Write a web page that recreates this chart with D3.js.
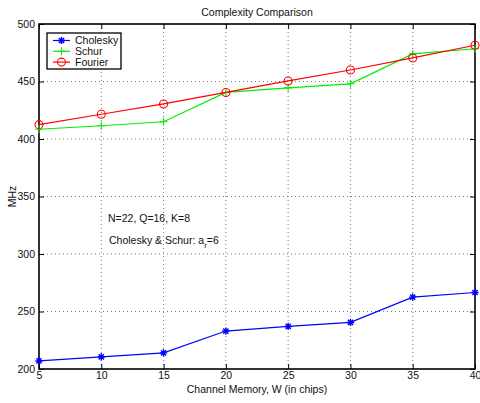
<!DOCTYPE html>
<html>
<head>
<meta charset="utf-8">
<script src="https://cdn.jsdelivr.net/npm/d3@7"></script>
<style>
  html, body { margin: 0; padding: 0; background: #fff; }
  svg { display: block; font-family: "Liberation Sans", Arial, Helvetica, sans-serif; }
</style>
</head>
<body>
<svg id="chart" width="480" height="403"></svg>
<script>
// Channel memory W (in chips)
const memory = [5, 10, 15, 20, 25, 30, 35, 40];
// Complexity in MHz per algorithm
const cholesky = [207, 210.5, 214, 233, 237, 240.5, 262.5, 266.5];
const schur    = [408.5, 411.5, 415, 440.5, 444.5, 448, 474, 478.5];
const fourier  = [412.5, 421.5, 430.5, 440.5, 450.5, 460, 470.5, 481.5];

const xTicks = [5, 10, 15, 20, 25, 30, 35, 40];
const yTicks = [200, 250, 300, 350, 400, 450, 500];

const seriesNames = ["Cholesky", "Schur", "Fourier"];
const seriesColors = ["#0000ff", "#00ee00", "#ff0000"];
const seriesMarkers = ["star", "plus", "circle"];

const svg = d3.select("#chart");
const m = { left: 39, right: 475, top: 24, bottom: 369 };

const x = d3.scaleLinear().domain([5, 40]).range([m.left, m.right]);
const y = d3.scaleLinear().domain([200, 500]).range([m.bottom, m.top]);

// dotted grid
const grid = svg.append("g");
grid.selectAll("line.gx").data(xTicks.slice(1, -1)).join("line")
  .attr("x1", d => x(d)).attr("x2", d => x(d))
  .attr("y1", m.top).attr("y2", m.bottom)
  .attr("stroke", "#555").attr("stroke-width", 0.8).attr("stroke-dasharray", "1,3");
grid.selectAll("line.gy").data(yTicks.slice(1, -1)).join("line")
  .attr("y1", d => y(d)).attr("y2", d => y(d))
  .attr("x1", m.left).attr("x2", m.right)
  .attr("stroke", "#555").attr("stroke-width", 0.8).attr("stroke-dasharray", "1,3");

// axes with inward ticks on all four sides
const fontSize = 10.5;
const axB = svg.append("g").attr("transform", `translate(0,${m.bottom})`)
  .call(d3.axisBottom(x).tickValues(xTicks).tickSize(-5).tickPadding(3));
const axT = svg.append("g").attr("transform", `translate(0,${m.top})`)
  .call(d3.axisTop(x).tickValues(xTicks).tickSize(-5).tickFormat(""));
const axL = svg.append("g").attr("transform", `translate(${m.left},0)`)
  .call(d3.axisLeft(y).tickValues(yTicks).tickSize(-5).tickPadding(4));
const axR = svg.append("g").attr("transform", `translate(${m.right},0)`)
  .call(d3.axisRight(y).tickValues(yTicks).tickSize(-5).tickFormat(""));
[axB, axT, axL, axR].forEach(a => {
  a.select(".domain").remove();
  a.selectAll(".tick line").attr("stroke", "#000").attr("stroke-width", 1);
  a.selectAll("text").attr("font-size", fontSize).attr("fill", "#111")
    .attr("font-family", "Liberation Sans, Arial, sans-serif");
});

// axes frame
svg.append("rect")
  .attr("x", m.left).attr("y", m.top)
  .attr("width", m.right - m.left).attr("height", m.bottom - m.top)
  .attr("fill", "none").attr("stroke", "#000").attr("stroke-width", 1.6);

// markers
function drawMarker(g, type, color, cx, cy) {
  if (type === "circle") {
    g.append("circle").attr("cx", cx).attr("cy", cy).attr("r", 4)
      .attr("fill", "none").attr("stroke", color).attr("stroke-width", 1.1);
  } else if (type === "plus") {
    g.append("path").attr("d", `M${cx-4},${cy}H${cx+4}M${cx},${cy-4}V${cy+4}`)
      .attr("stroke", color).attr("stroke-width", 1.1);
  } else {
    const r = 3.6, d = r * 0.72;
    g.append("path")
      .attr("d", `M${cx-r},${cy}H${cx+r}M${cx},${cy-r}V${cy+r}M${cx-d},${cy-d}L${cx+d},${cy+d}M${cx-d},${cy+d}L${cx+d},${cy-d}`)
      .attr("stroke", color).attr("stroke-width", 1.4);
  }
}

const allSeries = [cholesky, schur, fourier];
const line = d3.line().x(d => x(d[0])).y(d => y(d[1]));
allSeries.forEach((vals, i) => {
  const pts = memory.map((w, j) => [w, vals[j]]);
  const g = svg.append("g");
  g.append("path").datum(pts).attr("d", line)
    .attr("fill", "none").attr("stroke", seriesColors[i]).attr("stroke-width", 1.2);
  pts.forEach(p => drawMarker(g, seriesMarkers[i], seriesColors[i], x(p[0]), y(p[1])));
});

// legend
const lg = svg.append("g");
lg.append("rect").attr("x", 47).attr("y", 33).attr("width", 74).attr("height", 36)
  .attr("fill", "#fff").attr("stroke", "#000").attr("stroke-width", 1.3);
seriesNames.forEach((name, i) => {
  const ly = 40.5 + i * 10.8;
  lg.append("line").attr("x1", 53).attr("x2", 70).attr("y1", ly).attr("y2", ly)
    .attr("stroke", seriesColors[i]).attr("stroke-width", 1.2);
  drawMarker(lg, seriesMarkers[i], seriesColors[i], 61.5, ly);
  lg.append("text").attr("x", 75).attr("y", ly + 3.8)
    .attr("font-size", fontSize).attr("fill", "#111").text(name);
});

// titles
svg.append("text").attr("x", (m.left + m.right) / 2).attr("y", 16)
  .attr("text-anchor", "middle").attr("font-size", fontSize).attr("fill", "#111")
  .text("Complexity Comparison");
svg.append("text").attr("x", (m.left + m.right) / 2).attr("y", 393)
  .attr("text-anchor", "middle").attr("font-size", fontSize).attr("fill", "#111")
  .text("Channel Memory, W (in chips)");
svg.append("text")
  .attr("transform", `translate(16,${(m.top + m.bottom) / 2}) rotate(-90)`)
  .attr("text-anchor", "middle").attr("font-size", fontSize).attr("fill", "#111")
  .text("MHz");

// annotations
svg.append("text").attr("x", 108).attr("y", 222)
  .attr("font-size", fontSize).attr("fill", "#111").text("N=22, Q=16, K=8");
const ann = svg.append("text").attr("x", 109).attr("y", 244)
  .attr("font-size", fontSize).attr("fill", "#111");
ann.append("tspan").text("Cholesky & Schur: a");
ann.append("tspan").attr("dy", 4).attr("font-size", 8).text("r");
ann.append("tspan").attr("dy", -4).text("=6");
</script>
</body>
</html>
